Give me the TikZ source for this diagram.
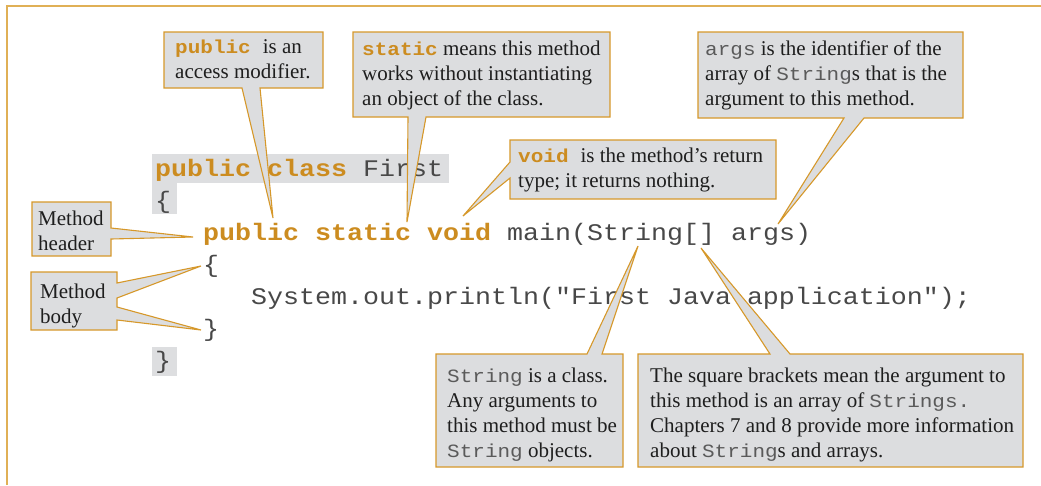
\documentclass[tikz,border=0pt]{standalone}
\usepackage{fontspec}
\setmainfont{Liberation Serif}
\setmonofont{Liberation Mono}[FakeStretch=1.12]
\definecolor{kw}{RGB}{204,140,32}
\definecolor{edge}{RGB}{214,152,42}
\definecolor{framecol}{RGB}{224,176,86}
\definecolor{callfill}{RGB}{220,221,223}
\definecolor{codebg}{RGB}{221,222,224}
\definecolor{codetext}{RGB}{72,72,72}
\definecolor{calltext}{RGB}{30,30,30}
\definecolor{monotext}{RGB}{90,90,90}
\newcommand{\kwd}[1]{{\ttfamily\bfseries\color{kw}#1}}
\newcommand{\mon}[1]{{\fontsize{18.75}{25}\selectfont\ttfamily\color{monotext}#1}}
\newcommand{\kwc}[1]{{\fontsize{18.75}{25}\selectfont\ttfamily\bfseries\color{kw}#1}}
\newcommand{\calllines}[1]{\parbox[t]{420pt}{\leavevmode#1}}
\tikzset{
  codeline/.style={anchor=base west, inner sep=0pt, font=\fontsize{23.8}{32}\selectfont\ttfamily, text=codetext},
  callout/.style={fill=callfill, draw=edge, line width=1.1pt, line join=miter},
  calltxt/.style={anchor=base west, inner sep=0pt, text=calltext, font=\fontsize{21}{25}\selectfont},
  codebox/.style={fill=codebg},
}
\begin{document}
\begin{tikzpicture}[x=1pt,y=-1pt]
\useasboundingbox (0,0) rectangle (1041,485);
% frame
\draw[framecol, line width=1.5pt] (7,485) -- (7,6) -- (1041,6);
% code backgrounds
\fill[codebox] (152,154) rectangle (449,183);
\fill[codebox] (152,183) rectangle (177,214);
\fill[codebox] (152,347) rectangle (177,376);
% code
\node[codeline] (l1) at (155,176) {\kwd{public class} First};
\node[codeline] (l2) at (155,208) {\{};
\node[codeline] (l3) at (203,240) {\kwd{public static void} main(String[] args)};
\node[codeline] (l4) at (203,272) {\{};
\node[codeline] (l5) at (251,304) {System.out.println("First Java application");};
\node[codeline] (l6) at (203,336) {\}};
\node[codeline] (l7) at (155,368) {\}};
% pointer tips
\coordinate (tipPublic) at (273,218);
\coordinate (tipStatic) at (407,222);
\coordinate (tipVoid) at (463,216);
\coordinate (tipArgs) at (778,224);
\coordinate (tipHeader) at (193,237);
\coordinate (tipOpen) at (201,266);
\coordinate (tipClose) at (201,330);
\coordinate (tipString) at (638,246);
\coordinate (tipBrackets) at (701,248);
% callouts
\draw[callout] (164,32) -- (323,32) -- (323,88) -- (260,88) -- (tipPublic) -- (242,88) -- (164,88) -- cycle;
\draw[callout] (353,32) -- (610,32) -- (610,117) -- (426,117) -- (tipStatic) -- (408,117) -- (353,117) -- cycle;
\draw[callout] (510,140) -- (776,140) -- (776,199) -- (510,199) -- (510,178) -- (tipVoid) -- (510,162) -- cycle;
\draw[callout] (698,32) -- (963,32) -- (963,118) -- (864,118) -- (tipArgs) -- (844,118) -- (698,118) -- cycle;
\draw[callout] (32,202) -- (111,202) -- (111,228) -- (tipHeader) -- (111,239) -- (111,256) -- (32,256) -- cycle;
\draw[callout] (31,272) -- (117,272) -- (117,283) -- (tipOpen) -- (117,298) -- (117,307) -- (tipClose) -- (117,320) -- (117,330) -- (31,330) -- cycle;
\draw[callout] (436,354) -- (587,354) -- (tipString) -- (602,354) -- (623,354) -- (623,467) -- (436,467) -- cycle;
\draw[callout] (638,354) -- (770,354) -- (tipBrackets) -- (790,354) -- (1023,354) -- (1023,467) -- (638,467) -- cycle;
% callout texts
\node[calltxt] (t1) at (175,53) {\calllines{\kwc{public}\hspace{12pt}is an\\access modifier.}};
\node[calltxt] (t2) at (362,55) {\calllines{\kwc{static} means this method\\works without instantiating\\an object of the class.}};
\node[calltxt] (t3) at (518,162) {\calllines{\kwc{void}\hspace{12pt}is the method’s return\\type; it returns nothing.}};
\node[calltxt] (t4) at (705,55) {\calllines{\mon{args} is the identifier of the\\array of \mon{String}s that is the\\argument to this method.}};
\node[calltxt] (t5) at (38,225) {\calllines{Method\\header}};
\node[calltxt] (t6) at (40,298) {\calllines{Method\\body}};
\node[calltxt] (t7) at (447,382) {\calllines{\mon{String} is a class.\\Any arguments to\\this method must be\\\mon{String} objects.}};
\node[calltxt] (t8) at (650,382) {\calllines{The square brackets mean the argument to\\this method is an array of \mon{Strings.}\\Chapters 7 and 8 provide more information\\about \mon{String}s and arrays.}};
\end{tikzpicture}
\end{document}
